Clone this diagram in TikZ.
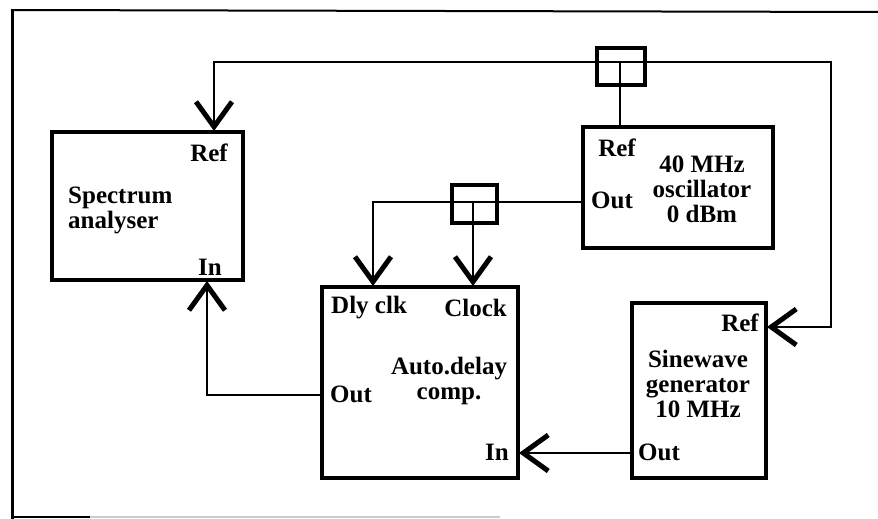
\documentclass[tikz,border=0pt]{standalone}
\usepackage{fontspec}
\setmainfont{Liberation Serif}
\usetikzlibrary{arrows.meta}
\begin{document}
\begin{tikzpicture}[x=1pt,y=-1pt,
  box/.style={draw,line width=4.5pt,inner sep=0pt,anchor=center},
  coupler/.style={draw,line width=4.5pt,inner sep=0pt,anchor=center},
  conn/.style={line width=1.8pt},
  arr/.style={-{Straight Barb[length=25pt,width=36pt,line width=5pt]}},
  lbl/.style={inner sep=0pt,font=\fontsize{25}{25}\selectfont\bfseries},
  mlbl/.style={inner sep=0pt,align=center,font=\fontsize{25}{25}\selectfont\bfseries}]
\useasboundingbox (0,0) rectangle (878,519);
% frame
\draw[line width=3pt] (12.5,519) -- (12.5,10);
\draw[line width=2pt] (11,10) -- (878,12);
\draw[line width=2pt] (11,517) -- (90,517);
\draw[line width=2pt,gray!40] (90,517) -- (500,517);
% boxes
\node[box,minimum width=191pt,minimum height=148pt] (sa) at (147.5,206) {};
\node[box,minimum width=190pt,minimum height=121pt] (osc) at (678,187.5) {};
\node[box,minimum width=134pt,minimum height=175pt] (sg) at (699,390.5) {};
\node[box,minimum width=196pt,minimum height=191pt] (adc) at (420,382.5) {};
\node[coupler,minimum width=48pt,minimum height=37pt] (c1) at (621,66.5) {};
\node[coupler,minimum width=45pt,minimum height=38pt] (c2) at (474.5,204) {};
% ports
\coordinate (c1j) at (620,62);
\coordinate (c2j) at (473,202);
\coordinate (rtop) at (831,62);
\coordinate (saref) at (214,131);
\coordinate (sain) at (207,281);
\coordinate (sgref) at (767,327);
\coordinate (sgout) at (632,453);
\coordinate (adcin) at (519,453);
\coordinate (adcout) at (322,395);
\coordinate (adcdly) at (373,286);
\coordinate (adcclk) at (473,286);
\coordinate (oscout) at (583,202);
\coordinate (oscref) at (620,127);
% connectors
\draw[conn] (c1j) -- (oscref);
\draw[conn,arr] (c1j) -| (saref);
\draw[conn,arr] (c1j) -- (rtop) |- (sgref);
\draw[conn] (oscout) -- (c2j);
\draw[conn,arr] (c2j) -| (adcdly);
\draw[conn,arr] (c2j) -- (adcclk);
\draw[conn,arr] (adcout) -| (sain);
\draw[conn,arr] (sgout) -- (adcin);
% labels: spectrum analyser
\node[lbl,anchor=east] (saRef) at (228,153) {Ref};
\node[mlbl,align=left,anchor=west] (saT) at (68,210) {Spectrum\\analyser};
\node[lbl,anchor=east] (saIn) at (222,267) {In};
% oscillator
\node[lbl] (oRef) at (617,148) {Ref};
\node[lbl,anchor=west] (oOut) at (591,200) {Out};
\node[mlbl] (oT) at (702,189) {40 MHz\\oscillator\\0 dBm};
% auto delay
\node[lbl,anchor=west] (aDly) at (331,308) {Dly clk};
\node[lbl,anchor=east] (aClk) at (507,308) {Clock};
\node[mlbl,anchor=east] (aT) at (509,381) {Auto.delay\\\hspace*{1.1em}comp.\hspace*{1.1em}};
\node[lbl,anchor=west] (aOut) at (330,394) {Out};
\node[lbl,anchor=east] (aIn) at (509,452) {In};
% sinewave
\node[lbl,anchor=east] (sRef) at (759,323) {Ref};
\node[mlbl] (sT) at (698,384) {Sinewave\\generator\\10 MHz};
\node[lbl,anchor=west] (sOut) at (638,452) {Out};
\end{tikzpicture}
\end{document}
